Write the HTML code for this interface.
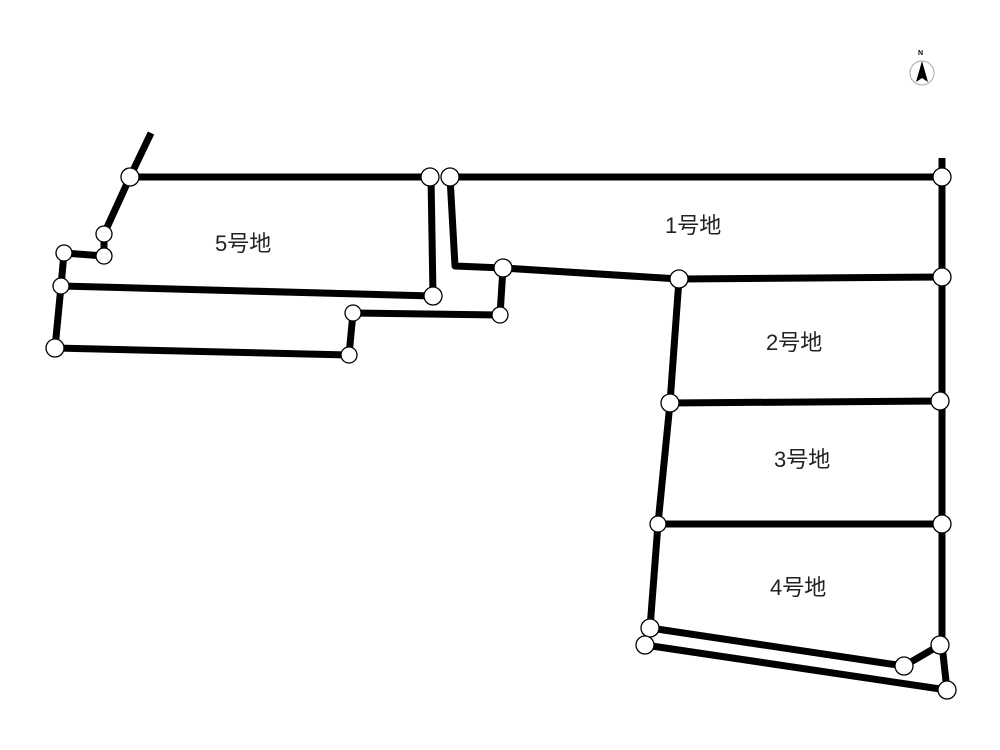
<!DOCTYPE html>
<html><head><meta charset="utf-8"><style>
html,body{margin:0;padding:0;background:#fff;}
svg{display:block;}
text{font-family:"Liberation Sans","Noto Sans CJK JP",sans-serif;font-size:22px;fill:#222;}
</style></head><body>
<svg width="1000" height="750" viewBox="0 0 1000 750" xmlns="http://www.w3.org/2000/svg">
<g stroke="#000" stroke-width="7" fill="none" stroke-linejoin="round">
<polyline points="151,133 130,177 104,234 104,256 64,253 61,286 55,348 349,355 353,313 500,315 503,268"/>
<line x1="130" y1="177" x2="430" y2="177"/>
<polyline points="61,286 433,296 431,177"/>
<polyline points="450,177 455,266 503,268 679,279 942,277"/>
<line x1="450" y1="177" x2="942" y2="177"/>
<polyline points="942,158 942,645 947,690"/>
<polyline points="679,279 670,403 658,524 650,628 904,666 940,645"/>
<line x1="670" y1="403" x2="940" y2="401"/>
<line x1="658" y1="524" x2="942" y2="524"/>
<line x1="645" y1="645" x2="947" y2="690"/>
<line x1="650" y1="628" x2="645" y2="645"/>
</g>
<g stroke="#000" stroke-width="1.3" fill="#fff">
<circle cx="130" cy="177" r="9"/><circle cx="104" cy="234" r="8"/><circle cx="104" cy="256" r="8"/>
<circle cx="64" cy="253" r="8"/><circle cx="61" cy="286" r="8"/><circle cx="55" cy="348" r="9"/>
<circle cx="349" cy="355" r="8"/><circle cx="353" cy="313" r="8"/><circle cx="500" cy="315" r="8"/>
<circle cx="503" cy="268" r="9"/><circle cx="430" cy="177" r="9"/><circle cx="450" cy="177" r="9"/>
<circle cx="433" cy="296" r="9"/><circle cx="942" cy="177" r="9"/><circle cx="679" cy="279" r="9"/>
<circle cx="942" cy="277" r="9"/><circle cx="670" cy="403" r="9"/><circle cx="940" cy="401" r="9"/>
<circle cx="658" cy="524" r="8"/><circle cx="942" cy="524" r="9"/><circle cx="650" cy="628" r="9"/>
<circle cx="645" cy="645" r="9"/><circle cx="904" cy="666" r="9"/><circle cx="940" cy="645" r="9"/>
<circle cx="947" cy="690" r="9"/>
</g>
<text x="215" y="251">5号地</text>
<text x="665" y="233">1号地</text>
<text x="766" y="350">2号地</text>
<text x="774" y="467">3号地</text>
<text x="770" y="595">4号地</text>
<circle cx="922" cy="73" r="12" fill="#fff" stroke="#aaa" stroke-width="1"/>
<polygon points="922,61 916,82 922,78 928,82" fill="#000"/>
<text x="918" y="55" style="font-size:7px;font-weight:bold;fill:#000">N</text>
</svg>
</body></html>
